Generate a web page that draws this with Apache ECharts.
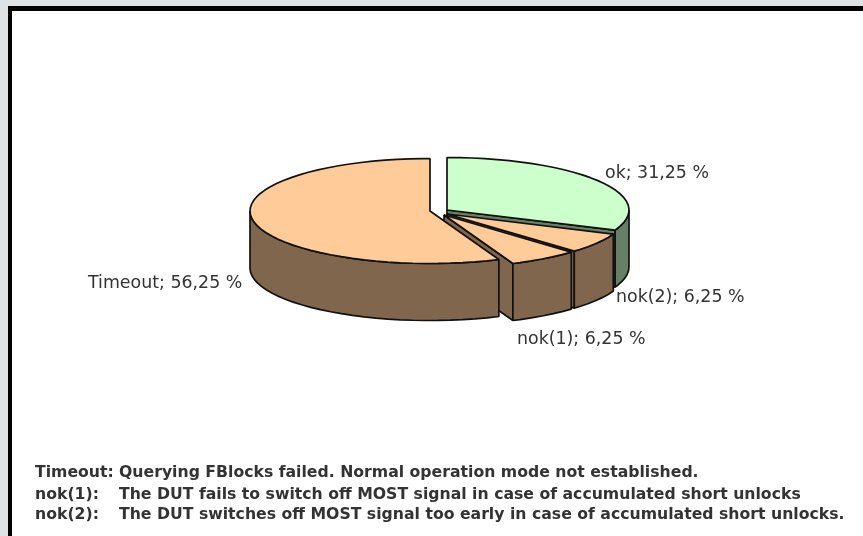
<!DOCTYPE html>
<html>
<head>
<meta charset="utf-8">
<script src="https://cdn.jsdelivr.net/npm/echarts@6/dist/echarts.min.js"></script>
<style>
  html, body { margin: 0; padding: 0; background: #dee2e5; }
  #frame { position: absolute; left: 8px; top: 6px; width: 855px; height: 530px; box-sizing: border-box;
           border-left: 4px solid #000; border-top: 5px solid #000; background: #fff; }
  #chart { position: absolute; left: 0; top: 0; width: 863px; height: 536px; }
</style>
</head>
<body>
<div id="frame"></div>
<div id="chart"></div>
<script>
const categories = ["ok", "nok(2)", "nok(1)", "Timeout"];
const percentages = [31.25, 6.25, 6.25, 56.25];

const topColors = ["#ccffcc", "#ffcc99", "#ffcc99", "#ffcc99"];
const wallColors = ["#668066", "#80664d", "#80664d", "#80664d"];

const noteKeys = ["Timeout:", "nok(1):", "nok(2):"];
const noteTexts = [
  "Querying FBlocks failed. Normal operation mode not established.",
  "The DUT fails to switch off MOST signal in case of accumulated short unlocks",
  "The DUT switches off MOST signal too early in case of accumulated short unlocks.",
];

// layout of the tilted pie, in pixels
const apexes = [[447, 210], [447, 214], [444, 215], [430, 211]];
const radii = [182, 180, 180, 180];
const labelAnchors = [[605, 173], [616, 297], [517, 339], [88, 283]];
const RY = 52.5;
const DEPTH = 57;
const ARC_STEP = 4;

// angle is in degrees, clockwise from 12 o'clock
function rim(i, angle, drop) {
  const rad = (angle * Math.PI) / 180;
  return [apexes[i][0] + radii[i] * Math.sin(rad), apexes[i][1] - RY * Math.cos(rad) + (drop || 0)];
}

function arcPoints(i, from, to, drop) {
  const points = [];
  for (let a = from; a < to; a += ARC_STEP) {
    points.push(rim(i, a, drop));
  }
  points.push(rim(i, to, drop));
  return points;
}

function polygon(points, fill) {
  return {
    type: "polygon",
    shape: { points },
    style: { fill, stroke: "#111", lineWidth: 1.7, lineJoin: "bevel" },
  };
}

function renderSlice(params, api) {
  const i = params.dataIndex;
  const value = api.value(0);
  const before = percentages.slice(0, i).reduce((sum, v) => sum + v, 0);
  const start = (before / 100) * 360;
  const end = start + (value / 100) * 360;
  const apex = apexes[i];
  const children = [];

  // cut face at the end of the slice, only seen while it turns towards the viewer
  if (end < 180) {
    const outer = rim(i, end);
    children.push(
      polygon(
        [apex, outer, [outer[0], outer[1] + DEPTH], [apex[0], apex[1] + DEPTH]],
        wallColors[i]
      )
    );
  }

  // round wall, front half only
  const wallFrom = Math.max(start, 90);
  const wallTo = Math.min(end, 270);
  if (wallFrom < wallTo) {
    const upper = arcPoints(i, wallFrom, wallTo);
    const lower = arcPoints(i, wallFrom, wallTo, DEPTH).reverse();
    children.push(polygon(upper.concat(lower), wallColors[i]));
  }

  children.push(polygon([apex].concat(arcPoints(i, start, end)), topColors[i]));

  children.push({
    type: "text",
    x: labelAnchors[i][0],
    y: labelAnchors[i][1],
    z2: 10,
    style: {
      text: `${categories[i]}; ${String(value).replace(".", ",")} %`,
      font: "17.4px 'DejaVu Sans'",
      fill: "#333",
      textVerticalAlign: "middle",
    },
  });

  return { type: "group", children };
}

const noteRows = [473, 495, 515];
const noteElements = [];
noteKeys.forEach((key, i) => {
  [[35, key], [119, noteTexts[i]]].forEach(([left, text]) => {
    noteElements.push({
      type: "text",
      left,
      top: noteRows[i] - 8,
      style: { text, font: "bold 15.7px 'DejaVu Sans'", fill: "#333" },
    });
  });
});

const chart = echarts.init(document.getElementById("chart"), null, { renderer: "canvas" });

chart.setOption({
  animation: false,
  backgroundColor: "transparent",
  graphic: noteElements,
  series: [
    {
      type: "custom",
      coordinateSystem: "none",
      renderItem: renderSlice,
      silent: true,
      data: percentages.map((v, i) => ({ name: categories[i], value: [v] })),
    },
  ],
});
</script>
</body>
</html>
